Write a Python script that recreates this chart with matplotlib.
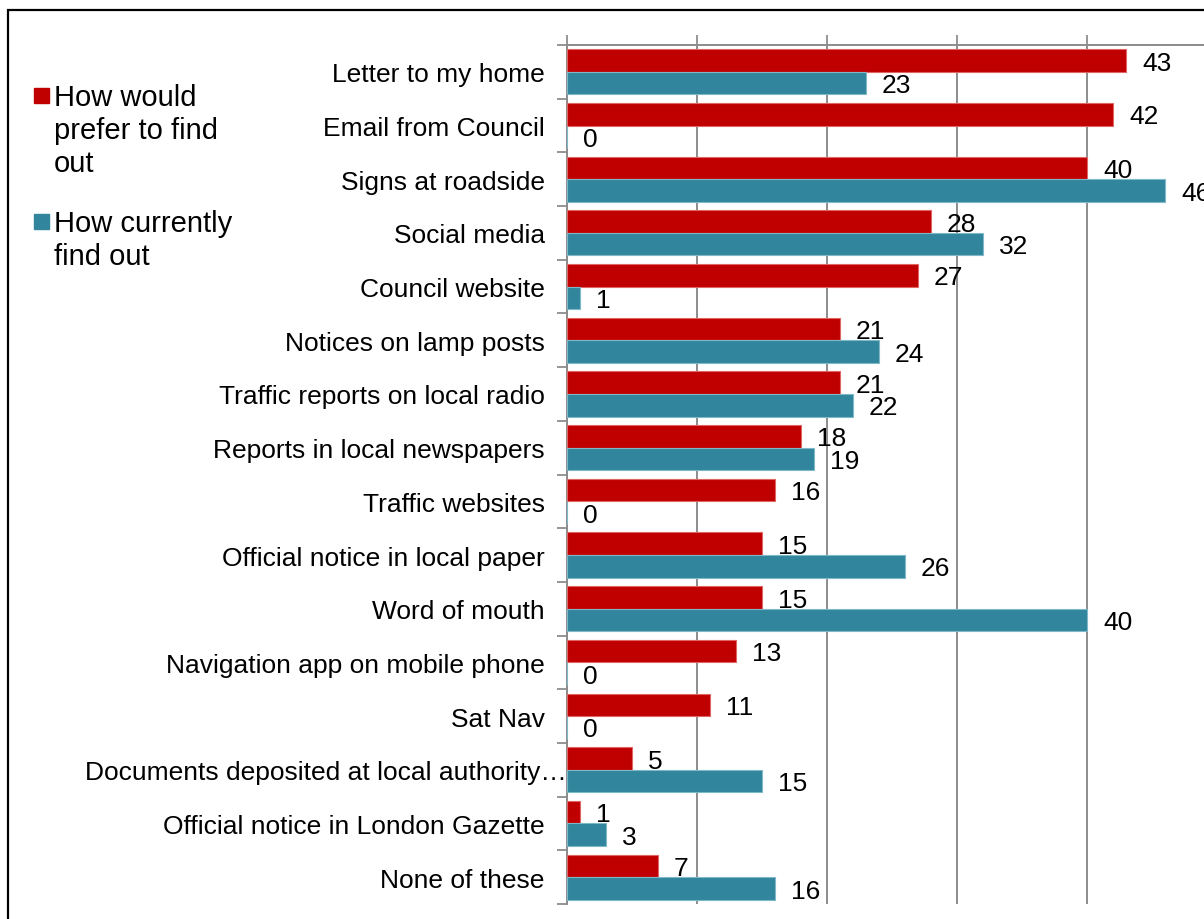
import numpy as np
import matplotlib.pyplot as plt
from matplotlib.patches import Rectangle
from matplotlib.transforms import ScaledTranslation

plt.rcParams['font.family'] = ['Liberation Sans', 'DejaVu Sans']

categories = [
    "Letter to my home",
    "Email from Council",
    "Signs at roadside",
    "Social media",
    "Council website",
    "Notices on lamp posts",
    "Traffic reports on local radio",
    "Reports in local newspapers",
    "Traffic websites",
    "Official notice in local paper",
    "Word of mouth",
    "Navigation app on mobile phone",
    "Sat Nav",
    "Documents deposited at local authority\u2026",
    "Official notice in London Gazette",
    "None of these",
]
prefer = [43, 42, 40, 28, 27, 21, 21, 18, 16, 15, 15, 13, 11, 5, 1, 7]
current = [23, 0, 46, 32, 1, 24, 22, 19, 0, 26, 40, 0, 0, 15, 3, 16]
series_names = ["How would\nprefer to find\nout", "How currently\nfind out"]
colors = ["#C00000", "#31859C"]
edges = ["#E06666", "#7FB8C8"]

W, H = 1204, 920
fig = plt.figure(figsize=(W / 100, H / 100), dpi=100)

# plot area in pixels: x0 at 567, 13 px per unit, top 46, bottom 905
x0, top, bot = 567, 46, 905
xmax = 50
ax = fig.add_axes([x0 / W, 1 - bot / H, (xmax * 13) / W, (bot - top) / H])

y = np.arange(len(categories))
h = 0.42
ax.barh(y - h / 2, prefer, height=h, color=colors[0], edgecolor=edges[0], linewidth=0.8, zorder=3)
ax.barh(y + h / 2, current, height=h, color=colors[1], edgecolor=edges[1], linewidth=0.8, zorder=3)

for yi, v in zip(y, prefer):
    ax.annotate(str(v), (v, yi - h / 2), xytext=(11.5, -1.5), textcoords='offset points',
                ha='left', va='center', fontsize=19, annotation_clip=False)
for yi, v in zip(y, current):
    ax.annotate(str(v), (v, yi + h / 2), xytext=(11.5, -1.5), textcoords='offset points',
                ha='left', va='center', fontsize=19, annotation_clip=False)

ax.set_ylim(len(categories) - 0.5, -0.5)
ax.set_xlim(0, xmax)

# category labels, ticks between categories
ax.set_yticks(y)
ax.set_yticklabels(categories, fontsize=19)
ax.set_yticks(np.arange(len(categories) + 1) - 0.5, minor=True)
ax.tick_params(axis='y', which='major', length=0, pad=16)
ax.tick_params(axis='y', which='minor', length=7, width=1.3, color='#8C8C8C')

# the truncated label runs up to the axis in the original
lab = ax.get_yticklabels()[13]
lab.set_transform(lab.get_transform() + ScaledTranslation(0.22, 0, fig.dpi_scale_trans))

# value axis at top, no labels
ax.xaxis.tick_top()
ax.set_xticks([0, 10, 20, 30, 40, 50])
ax.tick_params(axis='x', which='major', length=7, width=1.3, color='#8C8C8C', labeltop=False)
ax.grid(axis='x', color='#8C8C8C', linewidth=1.4, zorder=0)

for s in ['right', 'bottom']:
    ax.spines[s].set_visible(False)
ax.spines['top'].set_color('#8C8C8C')
ax.spines['top'].set_linewidth(1.4)
ax.spines['left'].set_color('#8C8C8C')
ax.spines['left'].set_linewidth(1.4)

# legend drawn by hand
leg_rows = [(97, series_names[0], colors[0]), (223, series_names[1], colors[1])]
for ypix, name, c in leg_rows:
    fig.patches.append(Rectangle((34 / W, 1 - (ypix + 7) / H), 15 / W, 15 / H,
                                 transform=fig.transFigure, color=c))
    fig.text(54 / W, 1 - (ypix - 13) / H, name, fontsize=21, ha='left', va='top',
             linespacing=1.22)

# outer border
fig.patches.append(Rectangle((7.5 / W, -0.05), 1.2, 1 - 11 / H + 0.05, transform=fig.transFigure,
                             fill=False, edgecolor='black', linewidth=1.6))

fig.savefig("out.png", dpi=100)
